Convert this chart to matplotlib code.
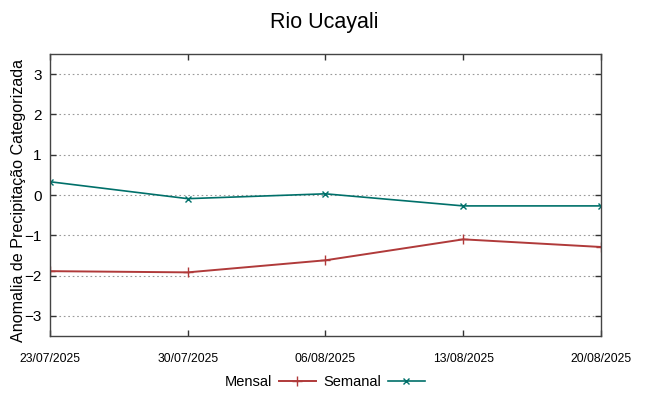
import datetime as dt

import matplotlib

matplotlib.use("Agg")
import matplotlib.pyplot as plt

plt.rcParams["font.family"] = ["Liberation Sans", "DejaVu Sans"]

# weekly dates and anomalies
dates = ["23/07/2025", "30/07/2025", "06/08/2025", "13/08/2025", "20/08/2025"]
mensal = [-1.89, -1.92, -1.62, -1.10, -1.29]
semanal = [0.33, -0.09, 0.03, -0.27, -0.27]
y_ticks = [-3, -2, -1, 0, 1, 2, 3]

x = [dt.datetime.strptime(d, "%d/%m/%Y") for d in dates]

fig = plt.figure(figsize=(6.49, 3.96), dpi=100)
ax = fig.add_axes([0.077, 0.1515, 0.849, 0.712])

ax.plot(x, mensal, "-", color="#b03a3a", marker="+", markersize=7,
        markeredgewidth=1.0, linewidth=1.4, label="Mensal")
ax.plot(x, semanal, "-", color="#00706a", marker="x", markersize=5,
        markeredgewidth=1.0, linewidth=1.2, label="Semanal")

ax.set_xlim(x[0], x[-1])
ax.set_ylim(-3.5, 3.5)
ax.set_xticks(x)
ax.set_xticklabels(dates, fontsize=8.7)
ax.set_yticks(y_ticks)
ax.tick_params(axis="y", labelsize=11)
ax.tick_params(direction="in", top=True, right=True, length=4, width=1, colors="#333333")
ax.tick_params(axis="x", pad=12, labelcolor="black")
ax.tick_params(axis="y", pad=6, labelcolor="black")
ax.yaxis.grid(True, linestyle=(0, (1.5, 2.5)), color="#999999", linewidth=0.8)
for s in ax.spines.values():
    s.set_color("#444444")
    s.set_linewidth(1.0)

ax.set_ylabel("Anomalia de Precipitação Categorizada", fontsize=11.6)
ax.yaxis.set_label_coords(-0.044, 0.48)
fig.suptitle("Rio Ucayali", fontsize=15.5, y=0.97)

fig.legend(loc="center", bbox_to_anchor=(0.5, 0.035), ncol=2, frameon=False,
           markerfirst=False, fontsize=10.5, handlelength=2.5, columnspacing=0.5,
           handletextpad=0.5)

fig.savefig("out.png", dpi=100)
plt.close(fig)
